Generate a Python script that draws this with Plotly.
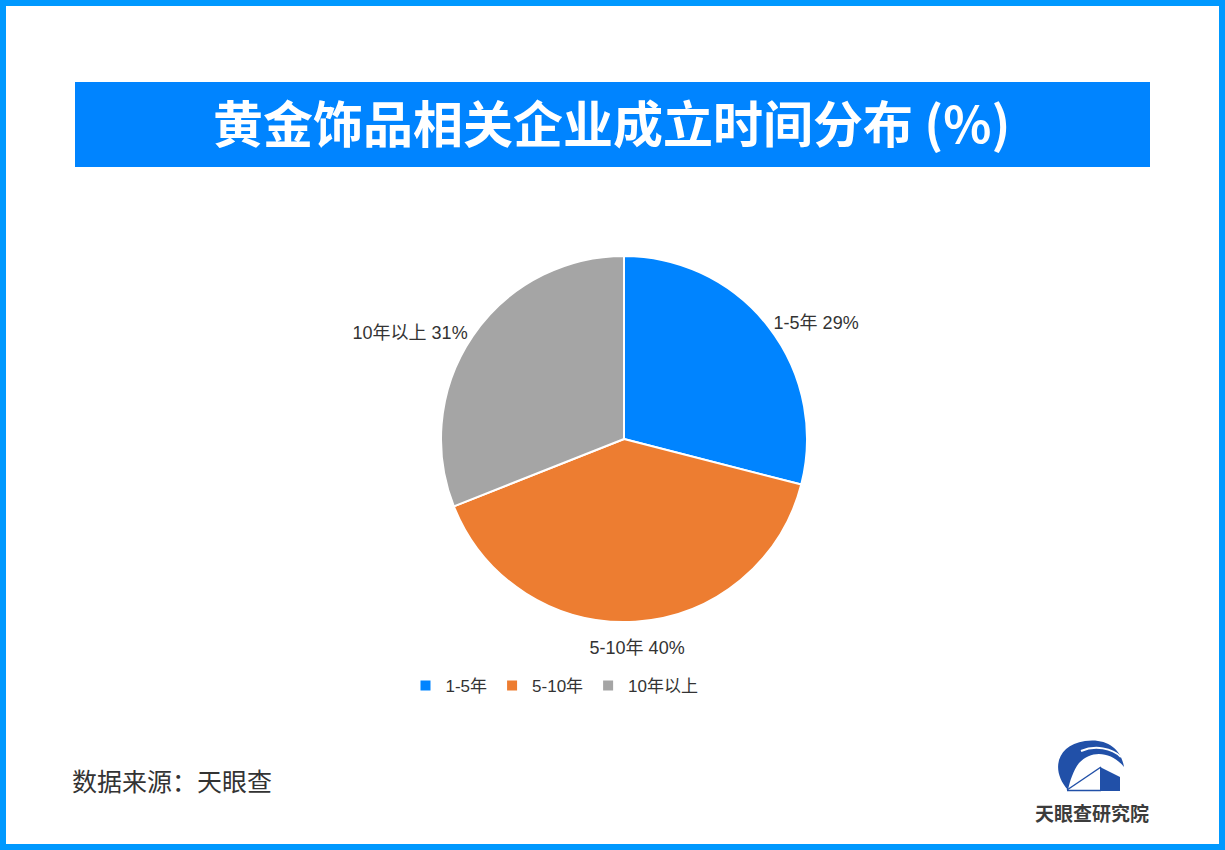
import plotly.graph_objects as go

# Share of gold-jewellery companies by years since founding
categories = ["1-5年", "5-10年", "10年以上"]
shares = [29, 40, 31]
slice_colors = ["#0084FF", "#ED7D31", "#A5A5A5"]

title_text = "黄金饰品相关企业成立时间分布 (%)"
source_text = "数据来源：天眼查"
brand_text = "天眼查研究院"

W, H = 1225, 850
CX, CY, R = 624, 439, 183          # pie centre and radius in pixels
LATIN_CJK = "Liberation Sans, Arial, Noto Sans CJK SC, sans-serif"
CJK = "Noto Sans CJK SC, sans-serif"
LABEL_FONT = dict(family=LATIN_CJK, size=18, color="#333333")


def domain_for(radius):
    return dict(x=[(CX - radius) / W, (CX + radius) / W],
                y=[(H - CY - radius) / H, (H - CY + radius) / H])


label_tpl = "%{label} %{value}%"

fig = go.Figure()

# main pie; side labels sit just outside the rim
fig.add_trace(go.Pie(
    labels=categories,
    values=shares,
    sort=False,
    direction="clockwise",
    rotation=0,
    marker=dict(colors=slice_colors, line=dict(color="white", width=2)),
    texttemplate=[label_tpl, "", label_tpl],
    textposition=["outside", "none", "outside"],
    textfont=LABEL_FONT,
    hoverinfo="label+value",
    domain=domain_for(R),
))

# transparent ring that carries the centred label under the bottom slice
ring_r = 259
fig.add_trace(go.Pie(
    labels=categories,
    values=shares,
    sort=False,
    direction="clockwise",
    rotation=0,
    hole=159 / ring_r,
    marker=dict(colors=["rgba(0,0,0,0)"] * 3, line=dict(width=0)),
    texttemplate=["", label_tpl, ""],
    textposition="inside",
    insidetextorientation="horizontal",
    textfont=LABEL_FONT,
    hoverinfo="skip",
    showlegend=False,
    domain=domain_for(ring_r),
))

shapes = [
    # outer frame
    dict(type="rect", x0=3, y0=3, x1=W - 3, y1=H - 3,
         line=dict(color="#0099FF", width=6), fillcolor="rgba(0,0,0,0)", layer="above"),
    # title banner
    dict(type="rect", x0=75, y0=82, x1=1150, y1=167,
         line=dict(width=0), fillcolor="#0084FF", layer="below"),
    # logo: crescent with swoosh
    dict(type="path",
         path="M 1068,790 C 1050,770 1057,745 1085,741 C 1106,738 1121,748 1124,767 "
              "C 1112,752 1092,749 1079,763 C 1073,771 1070,781 1068,790 Z",
         fillcolor="#2150A8", line=dict(width=0), layer="above"),
    dict(type="path", path="M 1081,751 C 1095,745 1112,748 1121,757",
         line=dict(color="white", width=2), layer="above"),
    # logo: building block
    dict(type="path", path="M 1100,767 L 1120,777 L 1120,791 L 1100,791 Z",
         fillcolor="#2150A8", line=dict(width=0), layer="above"),
    dict(type="path", path="M 1067,790 L 1101,767",
         line=dict(color="#2150A8", width=1.5), layer="above"),
    dict(type="path", path="M 1067,790.5 L 1101,790.5",
         line=dict(color="#2150A8", width=1.5), layer="above"),
]

annotations = [
    dict(text=f"<b>{title_text}</b>", x=611.5, y=121, xref="x", yref="y",
         showarrow=False, xanchor="center", yanchor="middle",
         font=dict(family=CJK, size=50, color="white")),
    dict(text=source_text, x=70, y=780, xref="x", yref="y",
         showarrow=False, xanchor="left", yanchor="middle",
         font=dict(family=CJK, size=25, color="#333333")),
    dict(text=f"<b>{brand_text}</b>", x=1092, y=812, xref="x", yref="y",
         showarrow=False, xanchor="center", yanchor="middle",
         font=dict(family=CJK, size=19, color="#3C3C3C")),
]

fig.update_layout(
    width=W, height=H,
    margin=dict(l=0, r=0, t=0, b=0),
    paper_bgcolor="white",
    plot_bgcolor="rgba(0,0,0,0)",
    xaxis=dict(range=[0, W], visible=False, fixedrange=True),
    yaxis=dict(range=[H, 0], visible=False, fixedrange=True),
    showlegend=True,
    legend=dict(orientation="h", x=554.5 / W, xanchor="center", y=(H - 686) / H,
                yanchor="middle", font=dict(family=LATIN_CJK, size=17, color="#333333"),
                itemclick=False, itemdoubleclick=False),
    shapes=shapes,
    annotations=annotations,
)

fig.write_html("out.html")
